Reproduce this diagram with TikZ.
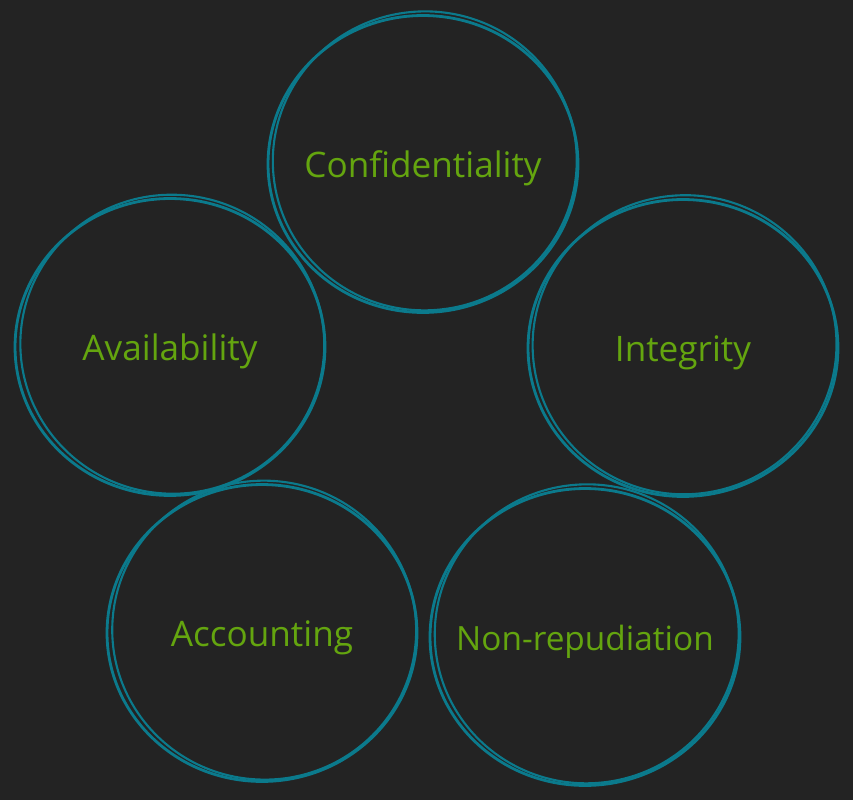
\documentclass[tikz,border=0pt]{standalone}
\usepackage{fontspec}
\setmainfont{Open Sans}
\usetikzlibrary{shapes.geometric}
\definecolor{bg}{HTML}{232323}
\definecolor{ring}{HTML}{0B7A8C}
\definecolor{leaf}{HTML}{64A50F}
\begin{document}
\begin{tikzpicture}[x=0.02cm,y=-0.02cm]
	\tikzset{pillar/.style={ellipse,draw=ring,line width=1.6pt,minimum width=6.2cm,minimum height=5.94cm,
		label={[text=leaf,font=\fontsize{20}{22}\selectfont,yshift=-2.5pt]center:#1}}}
	\fill[bg] (0,0) rectangle (853,800);
	\node[pillar=Confidentiality] (conf) at (423,164) {};
	\node[pillar=Availability] (avail) at (170,347) {};
	\node[pillar=Integrity] (integ) at (683,348) {};
	\node[pillar=Accounting] (acct) at (262,633) {};
	\node[pillar={\fontsize{19}{21}\selectfont Non-repudiation}] (nonrep) at (585,637) {};
	% second sketch stroke
	\foreach \n/\a in {conf/4,avail/-6,integ/8,acct/-4,nonrep/5}
		\draw[ring,line width=1.2pt,rotate around={\a:(\n.center)}] ([shift={(2,-3)}]\n.center) ellipse [x radius=3.04cm,y radius=2.99cm];
\end{tikzpicture}
\end{document}
